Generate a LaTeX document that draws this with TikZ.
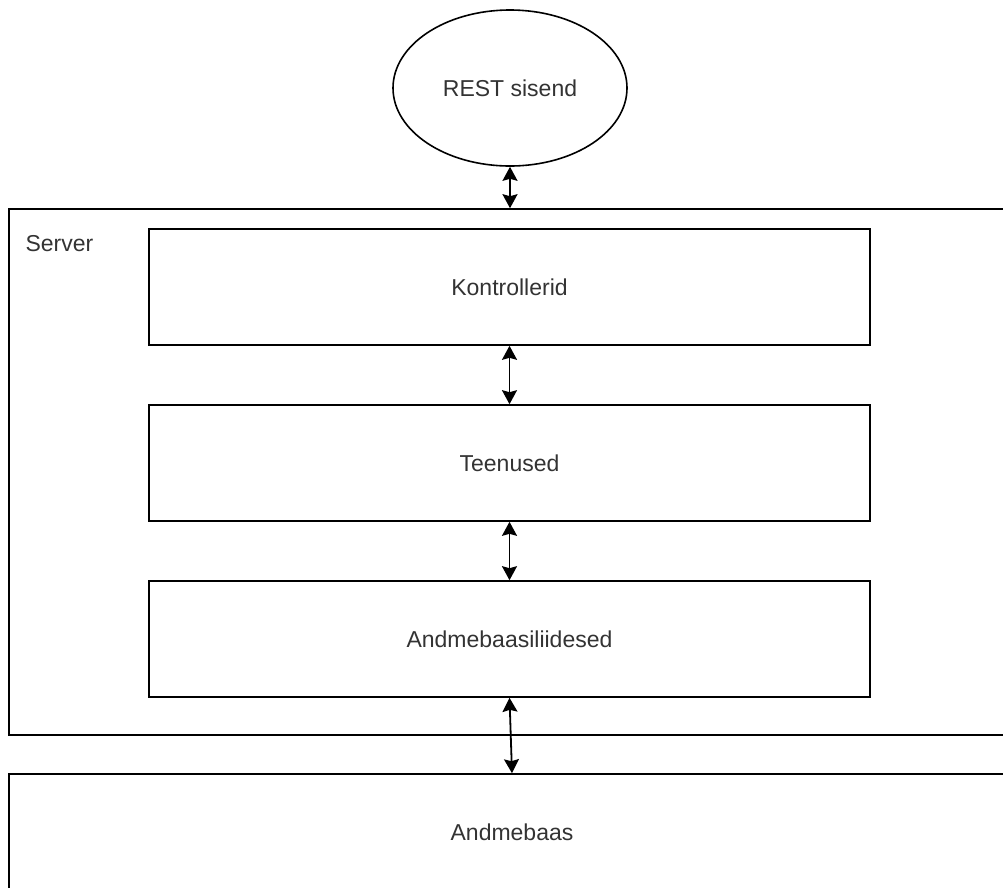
\documentclass[tikz,border=0pt]{standalone}
\usepackage{fontspec}
\setmainfont{Liberation Sans}
\usetikzlibrary{arrows.meta,shapes.geometric}
\definecolor{labelgrey}{HTML}{333333}
\begin{document}
\begin{tikzpicture}[x=1pt,y=-1pt,
  font=\fontsize{23}{27}\selectfont,
  text=labelgrey,
  frame/.style={draw, line width=1.6pt, rectangle, inner sep=0pt},
  layer/.style={frame, minimum width=721pt, minimum height=116pt},
  link/.style={line width=1.8pt, {Stealth[length=14pt,width=15pt,inset=2pt]}-{Stealth[length=14pt,width=15pt,inset=2pt]}}]
  \useasboundingbox (0,0) rectangle (1003,887);
  \clip (0,0) rectangle (1003,887);
  \fill[white] (0,0) rectangle (1003,887);

  % client input
  \node[draw, ellipse, line width=1.6pt, minimum width=234pt, minimum height=156pt, inner sep=0pt]
    (rest) at (510,88) {REST sisend};

  % server container, right edge runs past the page
  \node[frame, minimum width=1006pt, minimum height=526pt] (server) at (512,472) {};
  \node[anchor=west] (serverlabel) at (22,244) {Server};

  % server layers
  \node[layer] (ctrl) at (509.5,287) {Kontrollerid};
  \node[layer] (svc)  at (509.5,463) {Teenused};
  \node[layer] (dal)  at (509.5,639) {Andmebaasiliidesed};

  % database, bottom and right edges run past the page
  \node[frame, minimum width=1006pt, minimum height=130pt] (db) at (512,839) {};
  \node (dblabel) at (512,832) {Andmebaas};

  % connectors
  \draw[link] (rest.south) -- (rest.south |- server.north);
  \draw[link] (ctrl.south) -- (svc.north);
  \draw[link] (svc.south) -- (dal.north);
  \draw[link] (dal.south) -- (db.north);
\end{tikzpicture}
\end{document}
